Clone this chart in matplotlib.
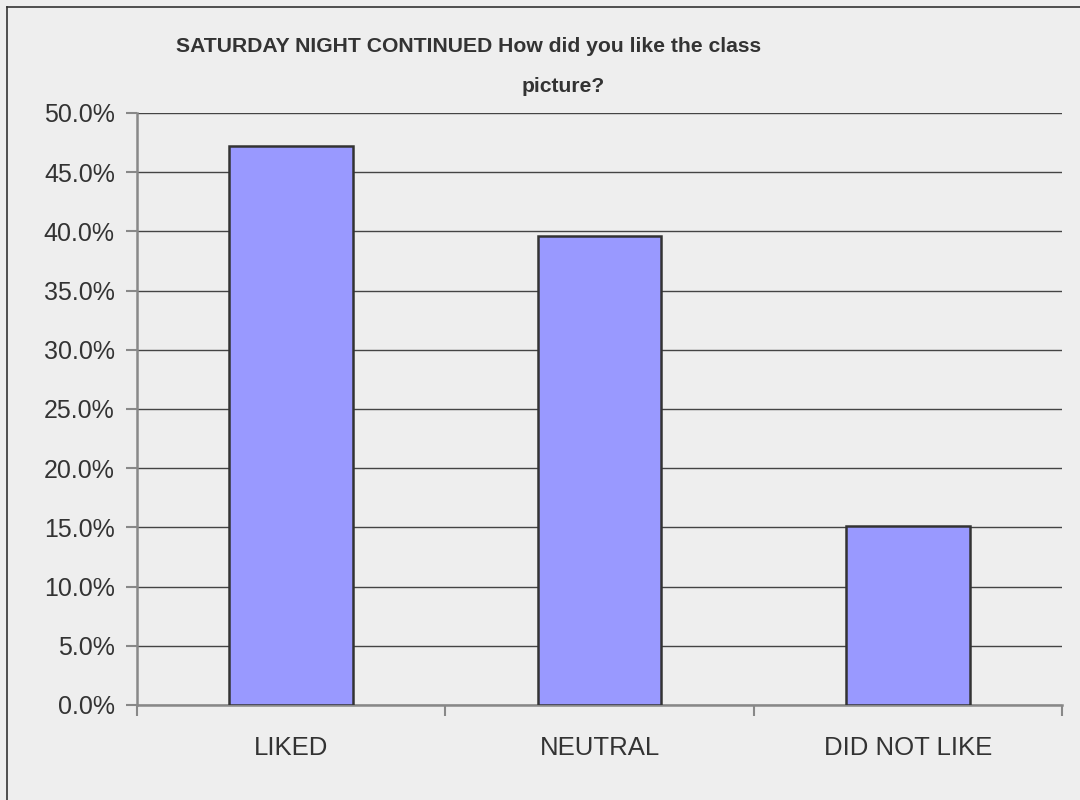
import numpy as np
import matplotlib.pyplot as plt
from matplotlib.ticker import PercentFormatter, FixedLocator

categories = ['LIKED', 'NEUTRAL', 'DID NOT LIKE']
values = [47.2, 39.6, 15.1]
title_line1 = 'SATURDAY NIGHT CONTINUED How did you like the class'
title_line2 = 'picture?'

bg = '#eeeeee'
txt = '#333333'

fig = plt.figure(figsize=(10.8, 8), dpi=100, facecolor=bg)
ax = fig.add_axes([137 / 1080, 95 / 800, 925 / 1080, 592 / 800])
ax.set_facecolor(bg)

x = np.arange(len(categories))
ax.bar(x, values, width=0.4, color='#9999ff', edgecolor='#333333',
       linewidth=1.8, zorder=3)

ax.set_xlim(-0.5, len(categories) - 0.5)
ax.set_ylim(0, 50)
ax.set_yticks(np.arange(0, 50.1, 5))
ax.yaxis.set_major_formatter(PercentFormatter(decimals=1))
ax.yaxis.grid(True, color='#444444', linewidth=1.0, zorder=1)

ax.set_xticks(x)
ax.set_xticklabels(categories)
ax.xaxis.set_minor_locator(FixedLocator(np.arange(-0.5, len(categories), 1)))
ax.tick_params(axis='x', which='major', length=0, pad=22, labelsize=18.5,
               labelcolor=txt)
ax.tick_params(axis='x', which='minor', length=8, width=1.5, color='#888888')
ax.tick_params(axis='y', length=8, width=1.5, color='#888888', pad=8,
               labelsize=18, labelcolor=txt)

for s in ['top', 'right']:
    ax.spines[s].set_visible(False)
for s in ['left', 'bottom']:
    ax.spines[s].set_color('#888888')
    ax.spines[s].set_linewidth(1.8)

tfont = ['Liberation Sans', 'DejaVu Sans']
fig.text(176 / 1080, 1 - 47 / 800, title_line1, fontsize=15.2,
         fontweight='bold', color=txt, family=tfont, ha='left', va='center')
fig.text(563 / 1080, 1 - 86 / 800, title_line2, fontsize=15.2,
         fontweight='bold', color=txt, family=tfont, ha='center', va='center')

for lbl in ax.get_xticklabels() + ax.get_yticklabels():
    lbl.set_family(['Liberation Sans', 'DejaVu Sans'])

# outer frame (only left and top visible in the crop)
fig.add_artist(plt.Line2D([7 / 1080, 7 / 1080], [0, 1 - 7 / 800],
                          transform=fig.transFigure, color='#333333', lw=1.2))
fig.add_artist(plt.Line2D([7 / 1080, 1], [1 - 7 / 800, 1 - 7 / 800],
                          transform=fig.transFigure, color='#333333', lw=1.2))

fig.savefig('out.png', dpi=100, facecolor=bg)
